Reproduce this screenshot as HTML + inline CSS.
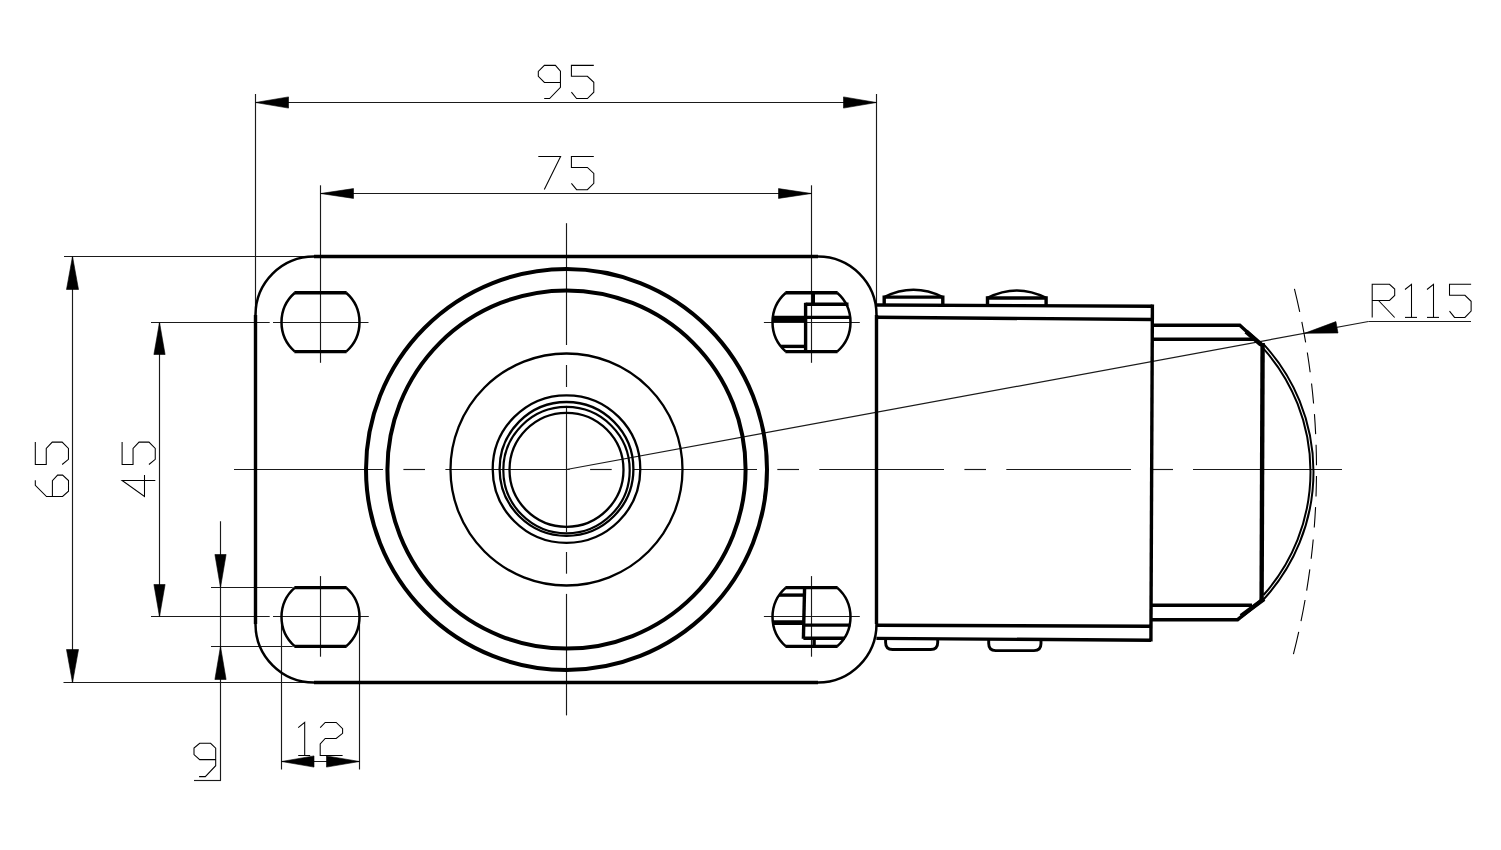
<!DOCTYPE html>
<html><head><meta charset="utf-8"><style>
html,body{margin:0;padding:0;background:#fff;}
svg{display:block;}
</style></head><body>
<svg width="1501" height="850" viewBox="0 0 1501 850" stroke="#000" stroke-linecap="butt" stroke-linejoin="miter">
<rect x="0" y="0" width="1501" height="850" fill="#fff" stroke="none"/>
<line x1="255.5" y1="94" x2="255.5" y2="315" stroke-width="1.15" stroke="#1a1a1a"/>
<line x1="876.5" y1="94" x2="876.5" y2="315" stroke-width="1.15" stroke="#1a1a1a"/>
<line x1="255.5" y1="102.5" x2="876.5" y2="102.5" stroke-width="1.15" stroke="#1a1a1a"/>
<polygon points="255.5,102.5 288.5,96.9 288.5,108.1" fill="#000" stroke="#000" stroke-width="0.6"/>
<polygon points="876.5,102.5 843.5,108.1 843.5,96.9" fill="#000" stroke="#000" stroke-width="0.6"/>
<polyline points="544.2,98.5 549.6,98.5 560.45,87.3 560.45,71.2 555.4,65.35 544.4,65.35 538.3,71.5 538.3,76.3 544.4,82.4 560.45,82.4" stroke-width="1.05" fill="none"/>
<polyline points="593.8,65.35 571.4,65.35 571.4,76.3 587.4,76.3 593.8,82.3 593.8,92.2 587.4,98.5 576.6,98.5 571.4,92.2" stroke-width="1.05" fill="none"/>
<line x1="320.5" y1="185.3" x2="320.5" y2="362.8" stroke-width="1.15" stroke="#1a1a1a"/>
<line x1="811.5" y1="185.3" x2="811.5" y2="362.8" stroke-width="1.15" stroke="#1a1a1a"/>
<line x1="320.5" y1="193.5" x2="811.5" y2="193.5" stroke-width="1.15" stroke="#1a1a1a"/>
<polygon points="320.5,193.5 353.5,188.6 353.5,198.4" fill="#000" stroke="#000" stroke-width="0.6"/>
<polygon points="811.5,193.5 778.5,198.4 778.5,188.6" fill="#000" stroke="#000" stroke-width="0.6"/>
<polyline points="538.3,156.5 560.6,156.5 544.3,189.5" stroke-width="1.05" fill="none"/>
<polyline points="593.8,156.5 571.4,156.5 571.4,167.45 587.4,167.45 593.8,173.45 593.8,183.35 587.4,189.65 576.6,189.65 571.4,183.35" stroke-width="1.05" fill="none"/>
<line x1="64" y1="256.5" x2="316" y2="256.5" stroke-width="1.15" stroke="#1a1a1a"/>
<line x1="63.5" y1="682.5" x2="316" y2="682.5" stroke-width="1.15" stroke="#1a1a1a"/>
<line x1="72.5" y1="256.5" x2="72.5" y2="682.5" stroke-width="1.15" stroke="#1a1a1a"/>
<polygon points="72.5,256.5 78.5,289.5 66.5,289.5" fill="#000" stroke="#000" stroke-width="0.6"/>
<polygon points="72.5,682.5 66.5,649.5 78.5,649.5" fill="#000" stroke="#000" stroke-width="0.6"/>
<polyline points="35.3,480.2 35.3,485.3 46.5,496.5 62.6,496.5 68.5,491.2 68.5,480.6 62.6,475.1 57.6,475.1 52.4,480.6 52.4,496.5" stroke-width="1.05" fill="none"/>
<polyline points="35.3,442.1 35.3,464.5 46.25,464.5 46.25,448.5 52.25,442.1 62.15,442.1 68.45,448.5 68.45,459.3 62.15,464.5" stroke-width="1.05" fill="none"/>
<line x1="151" y1="322.5" x2="269.7" y2="322.5" stroke-width="1.15" stroke="#1a1a1a"/>
<line x1="151" y1="616.5" x2="269.7" y2="616.5" stroke-width="1.15" stroke="#1a1a1a"/>
<line x1="159.5" y1="322.5" x2="159.5" y2="616.5" stroke-width="1.15" stroke="#1a1a1a"/>
<polygon points="159.5,322.5 165.1,354.5 153.9,354.5" fill="#000" stroke="#000" stroke-width="0.6"/>
<polygon points="159.5,616.5 153.9,584.5 165.1,584.5" fill="#000" stroke="#000" stroke-width="0.6"/>
<polyline points="155.3,480.4 122.1,480.4 144.5,496.5 144.5,475.1" stroke-width="1.05" fill="none"/>
<polyline points="122.1,442.1 122.1,464.5 133.05,464.5 133.05,448.5 139.05,442.1 148.95,442.1 155.25,448.5 155.25,459.3 148.95,464.5" stroke-width="1.05" fill="none"/>
<line x1="211" y1="587.5" x2="292.7" y2="587.5" stroke-width="1.15" stroke="#1a1a1a"/>
<line x1="211" y1="646.5" x2="292.7" y2="646.5" stroke-width="1.15" stroke="#1a1a1a"/>
<line x1="220.5" y1="521.2" x2="220.5" y2="780.5" stroke-width="1.15" stroke="#1a1a1a"/>
<line x1="194" y1="780.5" x2="221" y2="780.5" stroke-width="1.15" stroke="#1a1a1a"/>
<polygon points="220.5,587.5 214.9,554.5 226.1,554.5" fill="#000" stroke="#000" stroke-width="0.6"/>
<polygon points="220.5,646.5 226.1,679.5 214.9,679.5" fill="#000" stroke="#000" stroke-width="0.6"/>
<polyline points="199.1,776.6 205.3,776.6 215.7,765.7 215.7,748.2 210.6,743.3 199.7,743.3 194,748 194,754.6 199.7,759.6 215.7,759.6" stroke-width="1.05" fill="none"/>
<line x1="281.5" y1="622.6" x2="281.5" y2="769.5" stroke-width="1.15" stroke="#1a1a1a"/>
<line x1="359.5" y1="622.6" x2="359.5" y2="769.5" stroke-width="1.15" stroke="#1a1a1a"/>
<line x1="281.5" y1="761.5" x2="359.5" y2="761.5" stroke-width="1.15" stroke="#1a1a1a"/>
<polygon points="281.5,761.5 314,755.9 314,767.1" fill="#000" stroke="#000" stroke-width="0.6"/>
<polygon points="359.5,761.5 326.5,767.1 326.5,755.9" fill="#000" stroke="#000" stroke-width="0.6"/>
<polyline points="298.2,727.6 304.7,722.4 304.7,755.5" stroke-width="1.05" fill="none"/>
<polyline points="298.2,755.5 310.2,755.5" stroke-width="1.05" fill="none"/>
<polyline points="320.2,727.7 325.2,722.4 336.2,722.4 342.6,728.6 342.6,733.3 336.2,738.4 325.2,738.4 320.2,744 320.2,755.4 342.6,755.4" stroke-width="1.05" fill="none"/>
<line x1="566.5" y1="469.5" x2="1368.5" y2="321.5" stroke-width="1.15" stroke="#1a1a1a"/>
<line x1="1368.5" y1="321.5" x2="1471" y2="321.5" stroke-width="1.15" stroke="#1a1a1a"/>
<polygon points="1304.5,333.3 1335.9,321.61 1338,333.01" fill="#000" stroke="#000" stroke-width="0.6"/>
<polyline points="1372.2,317.5 1372.2,284.3 1389.5,284.3 1394.7,289 1394.7,295.5 1389.5,300.5 1372.2,300.5" stroke-width="1.05" fill="none"/>
<polyline points="1378.5,300.5 1394.7,317.5" stroke-width="1.05" fill="none"/>
<polyline points="1405,289.5 1411.5,284.3 1411.5,317.4" stroke-width="1.05" fill="none"/>
<polyline points="1405,317.4 1417,317.4" stroke-width="1.05" fill="none"/>
<polyline points="1427,289.5 1433.5,284.3 1433.5,317.4" stroke-width="1.05" fill="none"/>
<polyline points="1427,317.4 1439,317.4" stroke-width="1.05" fill="none"/>
<polyline points="1471.12,284.3 1449.5,284.3 1449.5,295.25 1464.94,295.25 1471.12,301.25 1471.12,311.15 1464.94,317.45 1454.52,317.45 1449.5,311.15" stroke-width="1.05" fill="none"/>
<path d="M1294.43,288.9 A750,750 0 0 1 1299.73,311.8" stroke-width="1.1" fill="none"/>
<path d="M1301.83,321.9 A750,750 0 0 1 1305.65,342.4" stroke-width="1.1" fill="none"/>
<path d="M1307.32,352.5 A750,750 0 0 1 1310.16,372.2" stroke-width="1.1" fill="none"/>
<path d="M1311.55,383.5 A750,750 0 0 1 1313.59,403.5" stroke-width="1.1" fill="none"/>
<path d="M1314.45,414.1 A750,750 0 0 1 1315.66,434.1" stroke-width="1.1" fill="none"/>
<path d="M1316.09,444.7 A750,750 0 0 1 1316.49,465.2" stroke-width="1.1" fill="none"/>
<path d="M1316.47,476 A750,750 0 0 1 1316.01,496.5" stroke-width="1.1" fill="none"/>
<path d="M1315.56,507.1 A750,750 0 0 1 1314.25,527.5" stroke-width="1.1" fill="none"/>
<path d="M1313.23,539.5 A750,750 0 0 1 1311.16,558.8" stroke-width="1.1" fill="none"/>
<path d="M1309.82,569.4 A750,750 0 0 1 1306.66,590.6" stroke-width="1.1" fill="none"/>
<path d="M1305.06,600 A750,750 0 0 1 1301,621.2" stroke-width="1.1" fill="none"/>
<path d="M1298.73,631.8 A750,750 0 0 1 1293.43,654.1" stroke-width="1.1" fill="none"/>
<line x1="234" y1="469.5" x2="383" y2="469.5" stroke-width="1.15" stroke="#1a1a1a"/>
<line x1="403.4" y1="469.5" x2="425" y2="469.5" stroke-width="1.15" stroke="#1a1a1a"/>
<line x1="445.4" y1="469.5" x2="569.7" y2="469.5" stroke-width="1.15" stroke="#1a1a1a"/>
<line x1="590.1" y1="469.5" x2="611.7" y2="469.5" stroke-width="1.15" stroke="#1a1a1a"/>
<line x1="632.8" y1="469.5" x2="757" y2="469.5" stroke-width="1.15" stroke="#1a1a1a"/>
<line x1="777.3" y1="469.5" x2="799" y2="469.5" stroke-width="1.15" stroke="#1a1a1a"/>
<line x1="819.3" y1="469.5" x2="944" y2="469.5" stroke-width="1.15" stroke="#1a1a1a"/>
<line x1="964.4" y1="469.5" x2="986" y2="469.5" stroke-width="1.15" stroke="#1a1a1a"/>
<line x1="1006.3" y1="469.5" x2="1131" y2="469.5" stroke-width="1.15" stroke="#1a1a1a"/>
<line x1="1153" y1="469.5" x2="1173" y2="469.5" stroke-width="1.15" stroke="#1a1a1a"/>
<line x1="1193" y1="469.5" x2="1342" y2="469.5" stroke-width="1.15" stroke="#1a1a1a"/>
<line x1="566.5" y1="223.2" x2="566.5" y2="345" stroke-width="1.15" stroke="#1a1a1a"/>
<line x1="566.5" y1="365" x2="566.5" y2="387" stroke-width="1.15" stroke="#1a1a1a"/>
<line x1="566.5" y1="405.9" x2="566.5" y2="532.2" stroke-width="1.15" stroke="#1a1a1a"/>
<line x1="566.5" y1="552" x2="566.5" y2="573.7" stroke-width="1.15" stroke="#1a1a1a"/>
<line x1="566.5" y1="593.9" x2="566.5" y2="715.4" stroke-width="1.15" stroke="#1a1a1a"/>
<line x1="273" y1="322.5" x2="368.5" y2="322.5" stroke-width="1.15" stroke="#1a1a1a"/>
<line x1="273" y1="616.5" x2="368.8" y2="616.5" stroke-width="1.15" stroke="#1a1a1a"/>
<line x1="763.9" y1="322.5" x2="859.8" y2="322.5" stroke-width="1.15" stroke="#1a1a1a"/>
<line x1="763.9" y1="616.5" x2="859.8" y2="616.5" stroke-width="1.15" stroke="#1a1a1a"/>
<line x1="320.5" y1="576.1" x2="320.5" y2="656.7" stroke-width="1.15" stroke="#1a1a1a"/>
<line x1="811.5" y1="576.1" x2="811.5" y2="656.7" stroke-width="1.15" stroke="#1a1a1a"/>
<line x1="314" y1="256.5" x2="818" y2="256.5" stroke-width="3.4"/>
<line x1="314" y1="682.5" x2="818" y2="682.5" stroke-width="3.4"/>
<line x1="255.5" y1="315" x2="255.5" y2="624" stroke-width="3.4"/>
<line x1="876.5" y1="315" x2="876.5" y2="624" stroke-width="3.4"/>
<path d="M255.5,315.0 A58.5,58.5 0 0 1 314.0,256.5" stroke-width="2.5" fill="none"/>
<path d="M818.0,256.5 A58.5,58.5 0 0 1 876.5,315.0" stroke-width="2.5" fill="none"/>
<path d="M876.5,624.0 A58.5,58.5 0 0 1 818.0,682.5" stroke-width="2.5" fill="none"/>
<path d="M314.0,682.5 A58.5,58.5 0 0 1 255.5,624.0" stroke-width="2.5" fill="none"/>
<line x1="294.38" y1="292.8" x2="346.62" y2="292.8" stroke-width="3.4"/>
<line x1="294.38" y1="351.6" x2="346.62" y2="351.6" stroke-width="3.4"/>
<path d="M346.12,292.8 A39.0,39.0 0 0 1 346.12,351.6" stroke-width="2.5" fill="none"/>
<path d="M294.88,351.6 A39.0,39.0 0 0 1 294.88,292.8" stroke-width="2.5" fill="none"/>
<line x1="785.38" y1="292.8" x2="837.62" y2="292.8" stroke-width="3.4"/>
<line x1="785.38" y1="351.6" x2="837.62" y2="351.6" stroke-width="3.4"/>
<path d="M837.12,292.8 A39.0,39.0 0 0 1 837.12,351.6" stroke-width="2.5" fill="none"/>
<path d="M785.88,351.6 A39.0,39.0 0 0 1 785.88,292.8" stroke-width="2.5" fill="none"/>
<line x1="294.38" y1="587.6" x2="346.62" y2="587.6" stroke-width="3.4"/>
<line x1="294.38" y1="646.4" x2="346.62" y2="646.4" stroke-width="3.4"/>
<path d="M346.12,587.6 A39.0,39.0 0 0 1 346.12,646.4" stroke-width="2.5" fill="none"/>
<path d="M294.88,646.4 A39.0,39.0 0 0 1 294.88,587.6" stroke-width="2.5" fill="none"/>
<line x1="785.38" y1="587.6" x2="837.62" y2="587.6" stroke-width="3.4"/>
<line x1="785.38" y1="646.4" x2="837.62" y2="646.4" stroke-width="3.4"/>
<path d="M837.12,587.6 A39.0,39.0 0 0 1 837.12,646.4" stroke-width="2.5" fill="none"/>
<path d="M785.88,646.4 A39.0,39.0 0 0 1 785.88,587.6" stroke-width="2.5" fill="none"/>
<line x1="805.6" y1="304.3" x2="848.5" y2="304.3" stroke-width="3.4"/>
<line x1="805.6" y1="302.8" x2="805.6" y2="351.5" stroke-width="3.4"/>
<polygon points="772.2,316.3 790,318 805,317.8 805,321.9 772.2,321.9" fill="#000" stroke="none"/>
<line x1="772.5" y1="317.4" x2="850.2" y2="317.4" stroke-width="3.4"/>
<line x1="813.3" y1="292.5" x2="813.3" y2="304.3" stroke-width="3.4"/>
<polyline points="781,346.4 805.6,346.4" stroke-width="3.4" fill="none"/>
<line x1="779" y1="595.1" x2="804.3" y2="595.1" stroke-width="3.4"/>
<line x1="804.6" y1="587" x2="803.4" y2="638.8" stroke-width="3.4"/>
<line x1="772.3" y1="622.6" x2="804.6" y2="622.6" stroke-width="4.6"/>
<line x1="804.6" y1="625.1" x2="850.2" y2="625.1" stroke-width="3.4"/>
<line x1="803.4" y1="638.3" x2="845" y2="638.3" stroke-width="3.4"/>
<line x1="814.1" y1="638" x2="814.1" y2="646.5" stroke-width="3.4"/>
<circle cx="566.5" cy="469.5" r="200.5" stroke-width="4.0" fill="none"/>
<circle cx="566.5" cy="469.5" r="179.1" stroke-width="4.0" fill="none"/>
<circle cx="566.5" cy="469.5" r="116" stroke-width="2.3" fill="none"/>
<circle cx="566.5" cy="469.1" r="73.8" stroke-width="2.3" fill="none"/>
<circle cx="566.5" cy="468.9" r="66.9" stroke-width="2.3" fill="none"/>
<circle cx="566.5" cy="470.15" r="63.2" stroke-width="2.2" fill="none"/>
<circle cx="566.5" cy="469.8" r="57" stroke-width="2.3" fill="none"/>
<polyline points="884.2,304.7 884.2,297.1 942.8,297.1 942.8,304.7" stroke-width="3.4" fill="none"/>
<path d="M884.2,297.1 Q913.5,282.5 942.8,297.1" stroke-width="2.6" fill="none"/>
<polyline points="987.5,305.5 987.5,298 1046.1,298 1046.1,305.5" stroke-width="3.4" fill="none"/>
<path d="M987.5,298 Q1016.8,283 1046.1,298" stroke-width="2.6" fill="none"/>
<line x1="876.4" y1="305" x2="1152.4" y2="306.2" stroke-width="3.4"/>
<line x1="876.4" y1="317.3" x2="1152.4" y2="319.5" stroke-width="3.4"/>
<line x1="1152.4" y1="304.6" x2="1150.9" y2="641.5" stroke-width="3.4"/>
<line x1="876.4" y1="625.2" x2="1151" y2="626.2" stroke-width="3.4"/>
<line x1="876.4" y1="638.4" x2="1151" y2="640.2" stroke-width="3.4"/>
<path d="M885.6,639.5 L885.6,642.5 Q885.6,649.5 892.6,649.5 L930.7,649.5 Q937.7,649.5 937.7,642.5 L937.7,639.5" stroke-width="2.9" fill="none"/>
<path d="M988.7,640 L988.7,643.6 Q988.7,650.6 995.7,650.6 L1034,650.6 Q1041,650.6 1041,643.6 L1041,640" stroke-width="2.9" fill="none"/>
<polyline points="1152,325.3 1239.8,325.3 1262,345.4" stroke-width="3.4" fill="none"/>
<line x1="1152" y1="339.3" x2="1256" y2="339.3" stroke-width="3.4"/>
<line x1="1262.6" y1="343" x2="1261.6" y2="602" stroke-width="4.4"/>
<polyline points="1151,619.7 1237.6,619.7 1262,600.1" stroke-width="3.4" fill="none"/>
<line x1="1151" y1="605.2" x2="1252" y2="605.2" stroke-width="3.4"/>
<line x1="1246" y1="331.5" x2="1261" y2="344.5" stroke-width="4.5"/>
<line x1="1241" y1="616" x2="1264" y2="599" stroke-width="4.5"/>
<path d="M1263.5,348.59 A185.0,185.0 0 0 1 1263.5,595.01" stroke-width="2" fill="none"/>
<path d="M1263.5,344.13 A188.0,188.0 0 0 1 1263.5,599.47" stroke-width="2" fill="none"/>
</svg>
</body></html>
